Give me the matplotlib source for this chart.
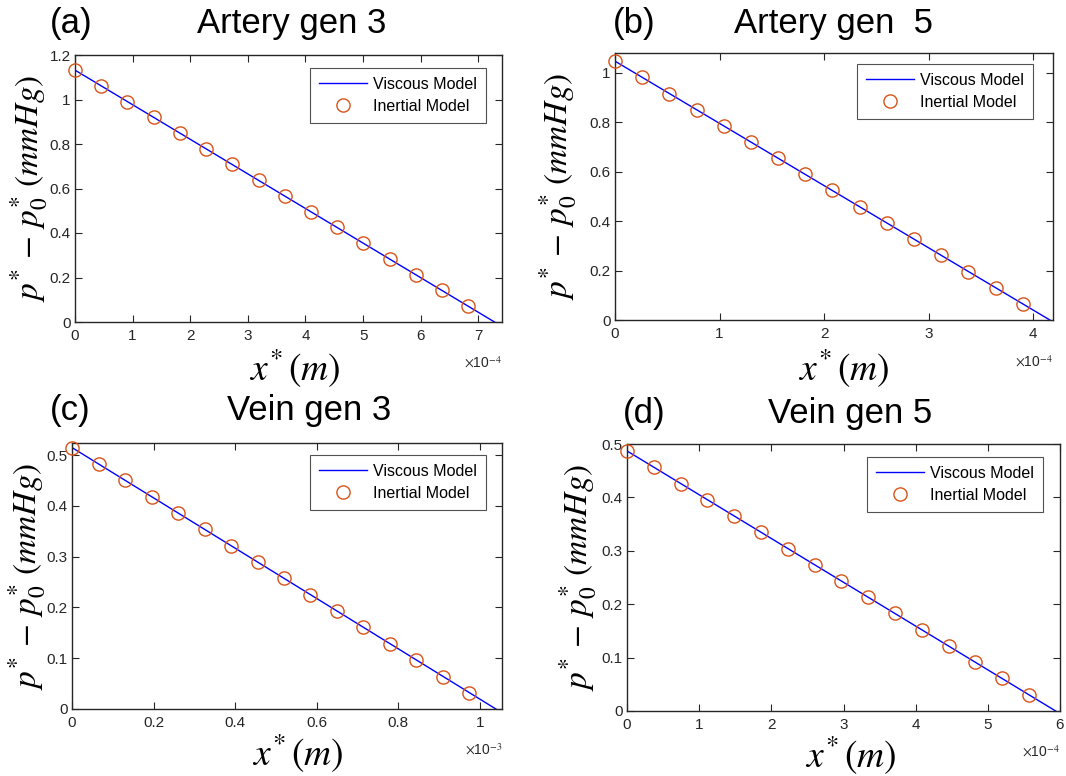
import matplotlib
matplotlib.use("Agg")
import matplotlib.pyplot as plt
from matplotlib.ticker import FuncFormatter

plt.rcParams['font.family'] = ['Liberation Sans', 'DejaVu Sans']
plt.rcParams['mathtext.fontset'] = 'stix'

# ---- data -------------------------------------------------------------
# (a) Artery gen 3
a_line_x = [0.0, 7.28e-4]
a_line_y = [1.132, 0.0]
a_pts_x = [0.0, 0.455e-4, 0.91e-4, 1.365e-4, 1.82e-4, 2.275e-4, 2.73e-4, 3.185e-4,
           3.64e-4, 4.095e-4, 4.55e-4, 5.005e-4, 5.46e-4, 5.915e-4, 6.37e-4, 6.825e-4]
a_pts_y = [1.132, 1.061, 0.991, 0.920, 0.849, 0.778, 0.708, 0.637,
           0.566, 0.495, 0.425, 0.354, 0.283, 0.212, 0.142, 0.071]

# (b) Artery gen 5
b_line_x = [0.0, 4.16e-4]
b_line_y = [1.047, 0.0]
b_pts_x = [0.0, 0.26e-4, 0.52e-4, 0.78e-4, 1.04e-4, 1.30e-4, 1.56e-4, 1.82e-4,
           2.08e-4, 2.34e-4, 2.60e-4, 2.86e-4, 3.12e-4, 3.38e-4, 3.64e-4, 3.90e-4]
b_pts_y = [1.047, 0.982, 0.916, 0.851, 0.785, 0.720, 0.654, 0.589,
           0.524, 0.458, 0.393, 0.327, 0.262, 0.196, 0.131, 0.065]

# (c) Vein gen 3
c_line_x = [0.0, 1.039e-3]
c_line_y = [0.515, 0.0]
c_pts_x = [0.0, 0.065e-3, 0.130e-3, 0.195e-3, 0.260e-3, 0.325e-3, 0.390e-3, 0.455e-3,
           0.520e-3, 0.584e-3, 0.649e-3, 0.714e-3, 0.779e-3, 0.844e-3, 0.909e-3, 0.974e-3]
c_pts_y = [0.515, 0.483, 0.451, 0.418, 0.386, 0.354, 0.322, 0.290,
           0.258, 0.225, 0.193, 0.161, 0.129, 0.097, 0.064, 0.032]

# (d) Vein gen 5
d_line_x = [0.0, 5.94e-4]
d_line_y = [0.487, 0.0]
d_pts_x = [0.0, 0.371e-4, 0.743e-4, 1.114e-4, 1.485e-4, 1.856e-4, 2.228e-4, 2.599e-4,
           2.970e-4, 3.341e-4, 3.713e-4, 4.084e-4, 4.455e-4, 4.826e-4, 5.198e-4, 5.569e-4]
d_pts_y = [0.487, 0.457, 0.426, 0.396, 0.365, 0.335, 0.304, 0.274,
           0.243, 0.213, 0.183, 0.152, 0.122, 0.091, 0.061, 0.030]

tags = ['(a)', '(b)', '(c)', '(d)']
titles = ['Artery gen 3', 'Artery gen  5', 'Vein gen 3', 'Vein gen 5']
x_ticks = [[0, 1, 2, 3, 4, 5, 6, 7], [0, 1, 2, 3, 4],
           [0, 0.2, 0.4, 0.6, 0.8, 1.0], [0, 1, 2, 3, 4, 5, 6]]
x_scales = [1e-4, 1e-4, 1e-3, 1e-4]
x_exps = [-4, -4, -3, -4]
y_ticks = [[0, 0.2, 0.4, 0.6, 0.8, 1.0, 1.2], [0, 0.2, 0.4, 0.6, 0.8, 1.0],
           [0, 0.1, 0.2, 0.3, 0.4, 0.5], [0, 0.1, 0.2, 0.3, 0.4, 0.5]]
x_lims = [7.41e-4, 4.19e-4, 1.054e-3, 6.0e-4]
y_lims = [1.2, 1.08, 0.524, 0.5]

panels = [(a_line_x, a_line_y, a_pts_x, a_pts_y),
          (b_line_x, b_line_y, b_pts_x, b_pts_y),
          (c_line_x, c_line_y, c_pts_x, c_pts_y),
          (d_line_x, d_line_y, d_pts_x, d_pts_y)]

# ---- layout in pixels --------------------------------------------------
W, H = 1066, 776
boxes = [(75, 55, 502, 322), (615, 53, 1053, 320),
         (72, 443, 502, 709), (627, 444, 1060, 711)]   # left, top, right, bottom
tag_pos = [(50, 33), (613, 33), (50, 420), (623, 423)]   # left, baseline
title_pos = [(292, 33), (834, 33), (309, 420), (850, 423)]  # centre, baseline
ylab_x = [29, 558, 27, 578]
xlab_pos = [(295, 368), (844, 368), (298, 753), (851, 755)]
exp_y = [363, 362, 750, 752]
leg_pos = [(310, 68), (857, 64), (310, 455), (867, 457)]  # left, top

fig = plt.figure(figsize=(W / 100, H / 100), dpi=100)
fig.patch.set_facecolor('white')

GRAY = '#262626'
ORANGE = '#D95319'


def fx(px):
    return px / W


def fy(py):
    return 1 - py / H


def fmt(v, pos):
    return '%g' % round(v, 6)


for i, (lx, ly, px, py) in enumerate(panels):
    l, t, r, b = boxes[i]
    ax = fig.add_axes([fx(l), fy(b), (r - l) / W, (b - t) / H])
    ax.plot(lx, ly, color='#0000FF', lw=1.0, label='Viscous Model', zorder=2)
    ax.plot(px, py, ls='none', marker='o', ms=9.5, mfc='none', mec=ORANGE,
            mew=1.0, label='Inertial Model', zorder=3, clip_on=False)
    ax.set_xlim(0, x_lims[i])
    ax.set_ylim(0, y_lims[i])
    sc = x_scales[i]
    ax.set_xticks([v * sc for v in x_ticks[i]])
    ax.xaxis.set_major_formatter(FuncFormatter(lambda v, p, sc=sc: fmt(v / sc, p)))
    ax.set_yticks(y_ticks[i])
    ax.yaxis.set_major_formatter(FuncFormatter(fmt))
    ax.tick_params(direction='in', length=5, width=0.8, colors=GRAY,
                   labelsize=11, top=True, right=True)
    ax.tick_params(axis='x', pad=5)
    ax.tick_params(axis='y', pad=3)
    for sp in ax.spines.values():
        sp.set_color(GRAY)
        sp.set_linewidth(1.0)

    ll, lt = leg_pos[i]
    leg = ax.legend(loc='upper left',
                    bbox_to_anchor=((ll - l) / (r - l), (b - lt) / (b - t)),
                    fontsize=11.5, frameon=True, fancybox=False, handlelength=3.0,
                    handletextpad=0.4, borderpad=0.55, labelspacing=0.45,
                    borderaxespad=0.0)
    leg.get_frame().set_edgecolor(GRAY)
    leg.get_frame().set_linewidth(0.8)

    # axis labels
    cy = (t + b) / 2
    fig.text(fx(ylab_x[i]), fy(cy), r'$p^{*}\,-\,p_{0}^{*}\ (mmHg)$', rotation=90,
             ha='center', va='center', fontsize=24)
    xx, xy = xlab_pos[i]
    fig.text(fx(xx), fy(xy), r'$x^{*}\,(m)$', ha='center', va='center', fontsize=27)
    fig.text(fx(r), fy(exp_y[i]), r'$\times$10$^{%d}$' % x_exps[i],
             ha='right', va='center', fontsize=10, color=GRAY)

    # panel tag and title
    tx, ty = tag_pos[i]
    fig.text(fx(tx), fy(ty), tags[i], ha='left', va='baseline', fontsize=25)
    cx, cb = title_pos[i]
    fig.text(fx(cx), fy(cb), titles[i], ha='center', va='baseline', fontsize=25)

fig.savefig('out.png', dpi=100)
